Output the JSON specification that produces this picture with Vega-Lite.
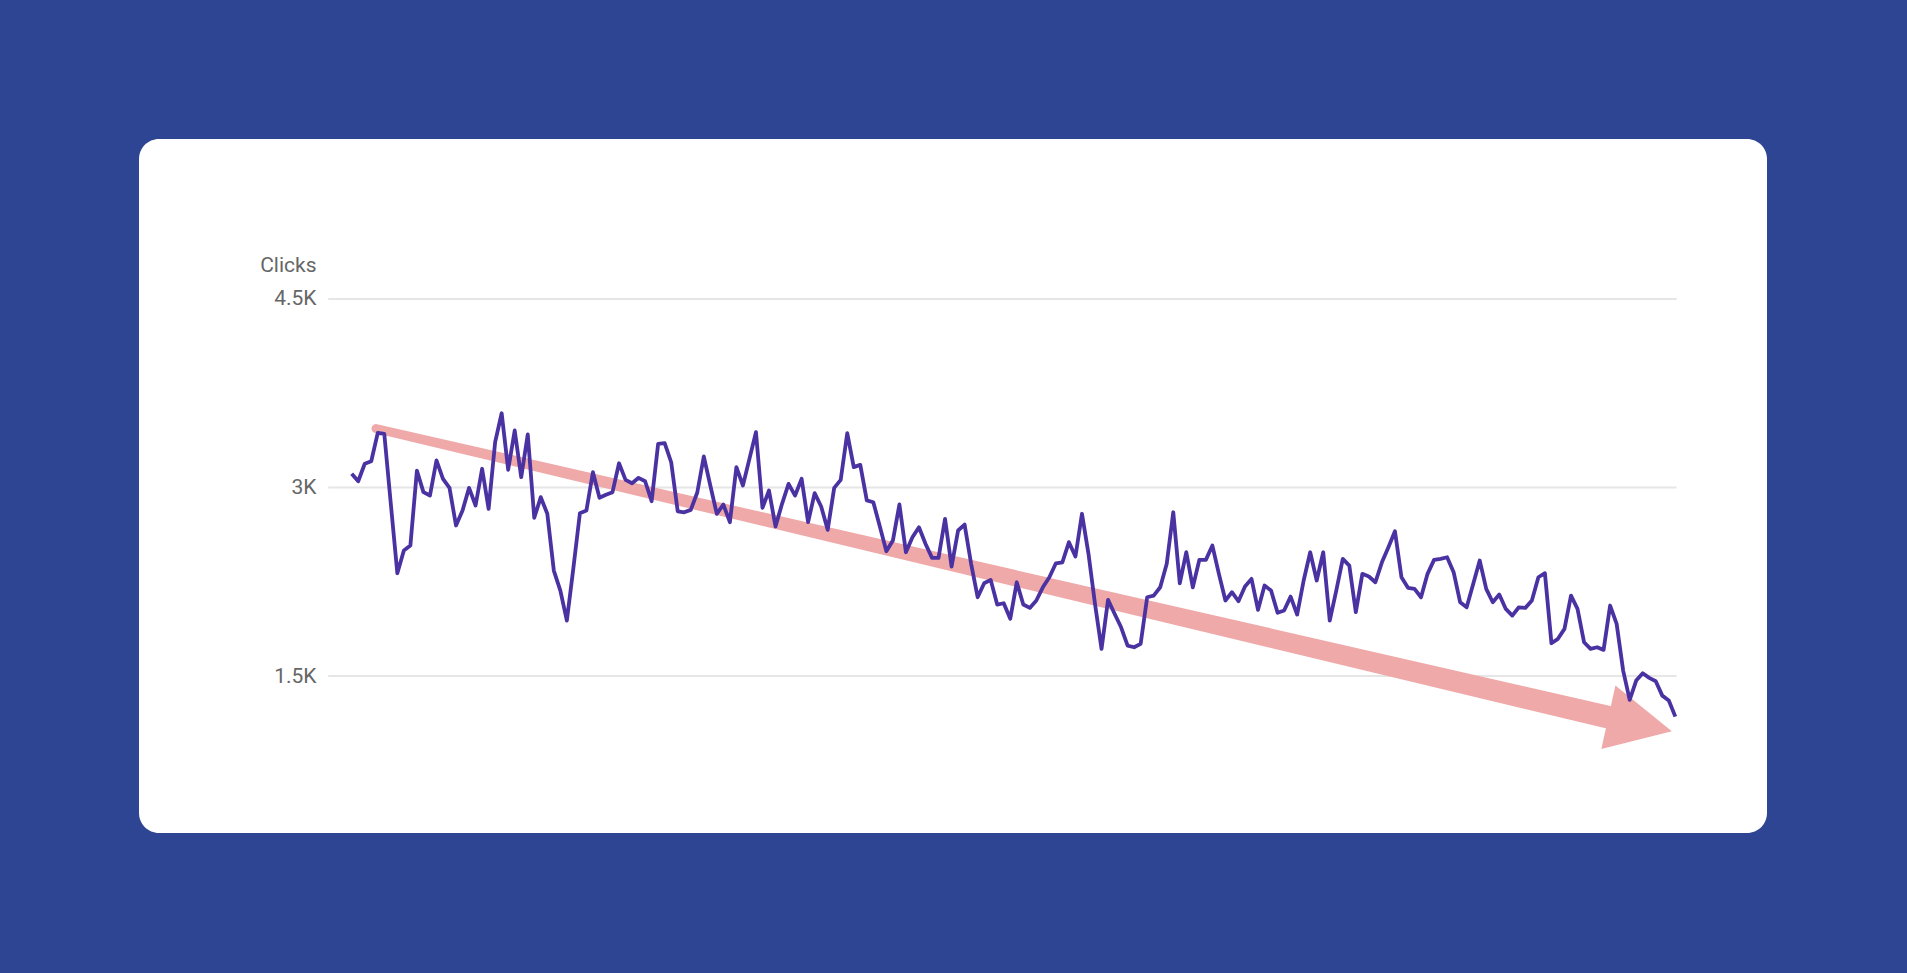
{
  "$schema": "https://vega.github.io/schema/vega-lite/v6.json",
  "width": 1628,
  "height": 694,
  "autosize": {"type": "none"},
  "padding": {"left": 139, "top": 139, "right": 140, "bottom": 140},
  "background": "#2d4593",
  "config": {
    "view": {"fill": "white", "cornerRadius": 20, "stroke": null},
    "font": "Roboto"
  },
  "datasets": {
    "clicks": [
      {"day": 0, "clicks": 3109}, {"day": 1, "clicks": 3050}, {"day": 2, "clicks": 3189}, {"day": 3, "clicks": 3209},
      {"day": 4, "clicks": 3435}, {"day": 5, "clicks": 3427}, {"day": 6, "clicks": 2870}, {"day": 7, "clicks": 2318},
      {"day": 8, "clicks": 2499}, {"day": 9, "clicks": 2538}, {"day": 10, "clicks": 3135}, {"day": 11, "clicks": 2963},
      {"day": 12, "clicks": 2936}, {"day": 13, "clicks": 3215}, {"day": 14, "clicks": 3069}, {"day": 15, "clicks": 2997},
      {"day": 16, "clicks": 2698}, {"day": 17, "clicks": 2817}, {"day": 18, "clicks": 2997}, {"day": 19, "clicks": 2857},
      {"day": 20, "clicks": 3149}, {"day": 21, "clicks": 2830}, {"day": 22, "clicks": 3361}, {"day": 23, "clicks": 3591},
      {"day": 24, "clicks": 3141}, {"day": 25, "clicks": 3454}, {"day": 26, "clicks": 3082}, {"day": 27, "clicks": 3422},
      {"day": 28, "clicks": 2759}, {"day": 29, "clicks": 2923}, {"day": 30, "clicks": 2791}, {"day": 31, "clicks": 2339},
      {"day": 32, "clicks": 2180}, {"day": 33, "clicks": 1941}, {"day": 34, "clicks": 2360}, {"day": 35, "clicks": 2796},
      {"day": 36, "clicks": 2817}, {"day": 37, "clicks": 3122}, {"day": 38, "clicks": 2918}, {"day": 39, "clicks": 2942},
      {"day": 40, "clicks": 2963}, {"day": 41, "clicks": 3193}, {"day": 42, "clicks": 3061}, {"day": 43, "clicks": 3034},
      {"day": 44, "clicks": 3077}, {"day": 45, "clicks": 3050}, {"day": 46, "clicks": 2891}, {"day": 47, "clicks": 3348},
      {"day": 48, "clicks": 3353}, {"day": 49, "clicks": 3201}, {"day": 50, "clicks": 2811}, {"day": 51, "clicks": 2803},
      {"day": 52, "clicks": 2822}, {"day": 53, "clicks": 2960}, {"day": 54, "clicks": 3247}, {"day": 55, "clicks": 3016},
      {"day": 56, "clicks": 2790}, {"day": 57, "clicks": 2865}, {"day": 58, "clicks": 2724}, {"day": 59, "clicks": 3162},
      {"day": 60, "clicks": 3016}, {"day": 61, "clicks": 3228}, {"day": 62, "clicks": 3440}, {"day": 63, "clicks": 2838},
      {"day": 64, "clicks": 2976}, {"day": 65, "clicks": 2690}, {"day": 66, "clicks": 2870}, {"day": 67, "clicks": 3029},
      {"day": 68, "clicks": 2936}, {"day": 69, "clicks": 3069}, {"day": 70, "clicks": 2724}, {"day": 71, "clicks": 2955},
      {"day": 72, "clicks": 2849}, {"day": 73, "clicks": 2663}, {"day": 74, "clicks": 2997}, {"day": 75, "clicks": 3061},
      {"day": 76, "clicks": 3432}, {"day": 77, "clicks": 3162}, {"day": 78, "clicks": 3180}, {"day": 79, "clicks": 2897},
      {"day": 80, "clicks": 2883}, {"day": 81, "clicks": 2690}, {"day": 82, "clicks": 2493}, {"day": 83, "clicks": 2578},
      {"day": 84, "clicks": 2865}, {"day": 85, "clicks": 2485}, {"day": 86, "clicks": 2604}, {"day": 87, "clicks": 2684},
      {"day": 88, "clicks": 2552}, {"day": 89, "clicks": 2440}, {"day": 90, "clicks": 2440}, {"day": 91, "clicks": 2751},
      {"day": 92, "clicks": 2371}, {"day": 93, "clicks": 2658}, {"day": 94, "clicks": 2705}, {"day": 95, "clicks": 2393},
      {"day": 96, "clicks": 2127}, {"day": 97, "clicks": 2238}, {"day": 98, "clicks": 2265}, {"day": 99, "clicks": 2069},
      {"day": 100, "clicks": 2079}, {"day": 101, "clicks": 1955}, {"day": 102, "clicks": 2246}, {"day": 103, "clicks": 2069},
      {"day": 104, "clicks": 2042}, {"day": 105, "clicks": 2101}, {"day": 106, "clicks": 2206}, {"day": 107, "clicks": 2286},
      {"day": 108, "clicks": 2397}, {"day": 109, "clicks": 2405}, {"day": 110, "clicks": 2565}, {"day": 111, "clicks": 2451},
      {"day": 112, "clicks": 2791}, {"day": 113, "clicks": 2472}, {"day": 114, "clicks": 2074}, {"day": 115, "clicks": 1716},
      {"day": 116, "clicks": 2106}, {"day": 117, "clicks": 1995}, {"day": 118, "clicks": 1888}, {"day": 119, "clicks": 1742},
      {"day": 120, "clicks": 1729}, {"day": 121, "clicks": 1756}, {"day": 122, "clicks": 2127}, {"day": 123, "clicks": 2140},
      {"day": 124, "clicks": 2206}, {"day": 125, "clicks": 2393}, {"day": 126, "clicks": 2803}, {"day": 127, "clicks": 2238},
      {"day": 128, "clicks": 2485}, {"day": 129, "clicks": 2206}, {"day": 130, "clicks": 2424}, {"day": 131, "clicks": 2424},
      {"day": 132, "clicks": 2538}, {"day": 133, "clicks": 2313}, {"day": 134, "clicks": 2101}, {"day": 135, "clicks": 2167},
      {"day": 136, "clicks": 2095}, {"day": 137, "clicks": 2212}, {"day": 138, "clicks": 2273}, {"day": 139, "clicks": 2027},
      {"day": 140, "clicks": 2220}, {"day": 141, "clicks": 2180}, {"day": 142, "clicks": 2003}, {"day": 143, "clicks": 2021},
      {"day": 144, "clicks": 2132}, {"day": 145, "clicks": 1989}, {"day": 146, "clicks": 2260}, {"day": 147, "clicks": 2485},
      {"day": 148, "clicks": 2260}, {"day": 149, "clicks": 2485}, {"day": 150, "clicks": 1941}, {"day": 151, "clicks": 2180},
      {"day": 152, "clicks": 2432}, {"day": 153, "clicks": 2379}, {"day": 154, "clicks": 2008}, {"day": 155, "clicks": 2313},
      {"day": 156, "clicks": 2292}, {"day": 157, "clicks": 2246}, {"day": 158, "clicks": 2405}, {"day": 159, "clicks": 2525},
      {"day": 160, "clicks": 2652}, {"day": 161, "clicks": 2286}, {"day": 162, "clicks": 2202}, {"day": 163, "clicks": 2194},
      {"day": 164, "clicks": 2127}, {"day": 165, "clicks": 2313}, {"day": 166, "clicks": 2424}, {"day": 167, "clicks": 2432},
      {"day": 168, "clicks": 2445}, {"day": 169, "clicks": 2326}, {"day": 170, "clicks": 2087}, {"day": 171, "clicks": 2047},
      {"day": 172, "clicks": 2233}, {"day": 173, "clicks": 2419}, {"day": 174, "clicks": 2194}, {"day": 175, "clicks": 2087},
      {"day": 176, "clicks": 2148}, {"day": 177, "clicks": 2034}, {"day": 178, "clicks": 1981}, {"day": 179, "clicks": 2047},
      {"day": 180, "clicks": 2042}, {"day": 181, "clicks": 2101}, {"day": 182, "clicks": 2286}, {"day": 183, "clicks": 2318},
      {"day": 184, "clicks": 1761}, {"day": 185, "clicks": 1796}, {"day": 186, "clicks": 1875}, {"day": 187, "clicks": 2140},
      {"day": 188, "clicks": 2034}, {"day": 189, "clicks": 1769}, {"day": 190, "clicks": 1716}, {"day": 191, "clicks": 1729},
      {"day": 192, "clicks": 1708}, {"day": 193, "clicks": 2061}, {"day": 194, "clicks": 1915}, {"day": 195, "clicks": 1543},
      {"day": 196, "clicks": 1310}, {"day": 197, "clicks": 1464}, {"day": 198, "clicks": 1522}, {"day": 199, "clicks": 1485},
      {"day": 200, "clicks": 1459}, {"day": 201, "clicks": 1344}, {"day": 202, "clicks": 1305}, {"day": 203, "clicks": 1177}
    ],
    "gridlines": [
      {"clicks": 1500, "from": -3.6, "to": 203.2},
      {"clicks": 3000, "from": -3.6, "to": 203.2},
      {"clicks": 4500, "from": -3.6, "to": 203.2}
    ],
    "trend": [{"day": 3.73, "clicks": 3469}, {"day": 194, "clicks": 1157}],
    "trendHead": [{"day": 197.6, "clicks": 1116}]
  },
  "encoding": {
    "x": {
      "field": "day",
      "type": "quantitative",
      "axis": null,
      "scale": {"domain": [-32.62, 217.06], "nice": false, "zero": false}
    },
    "y": {
      "field": "clicks",
      "type": "quantitative",
      "scale": {"domain": [251, 5773], "nice": false, "zero": false},
      "axis": {
        "title": "Clicks",
        "values": [1500, 3000, 4500],
        "labelExpr": "datum.value / 1000 + 'K'",
        "domain": false,
        "ticks": false,
        "tickSize": 0,
        "grid": false,
        "offset": -177,
        "labelPadding": 0,
        "labelFontSize": 21,
        "labelColor": "#666666",
        "labelFont": "Roboto",
        "titleFont": "Roboto",
        "titleFontSize": 21,
        "titleFontWeight": "normal",
        "titleColor": "#666666",
        "titleAngle": 0,
        "titleAlign": "right",
        "titleBaseline": "middle",
        "titleX": 0,
        "titleY": 126
      }
    }
  },
  "layer": [
    {
      "data": {"name": "gridlines"},
      "mark": {"type": "rule", "color": "#e6e6e6", "strokeWidth": 2},
      "encoding": {
        "x": {"field": "from", "type": "quantitative"},
        "x2": {"field": "to"}
      }
    },
    {
      "data": {"name": "trend"},
      "mark": {"type": "trail", "color": "#f0a9a9"},
      "encoding": {
        "size": {
          "field": "day",
          "type": "quantitative",
          "scale": {"zero": false, "range": [9, 23]},
          "legend": null
        }
      }
    },
    {
      "data": {"name": "trendHead"},
      "mark": {
        "type": "point",
        "shape": "M1,0L-1,-1L-1,1Z",
        "filled": true,
        "size": 4225,
        "angle": 12.5,
        "color": "#f0a9a9",
        "opacity": 1,
        "strokeWidth": 0
      }
    },
    {
      "data": {"name": "clicks"},
      "mark": {"type": "line", "color": "#4a32a2", "strokeWidth": 3.8, "strokeJoin": "round"}
    }
  ]
}
